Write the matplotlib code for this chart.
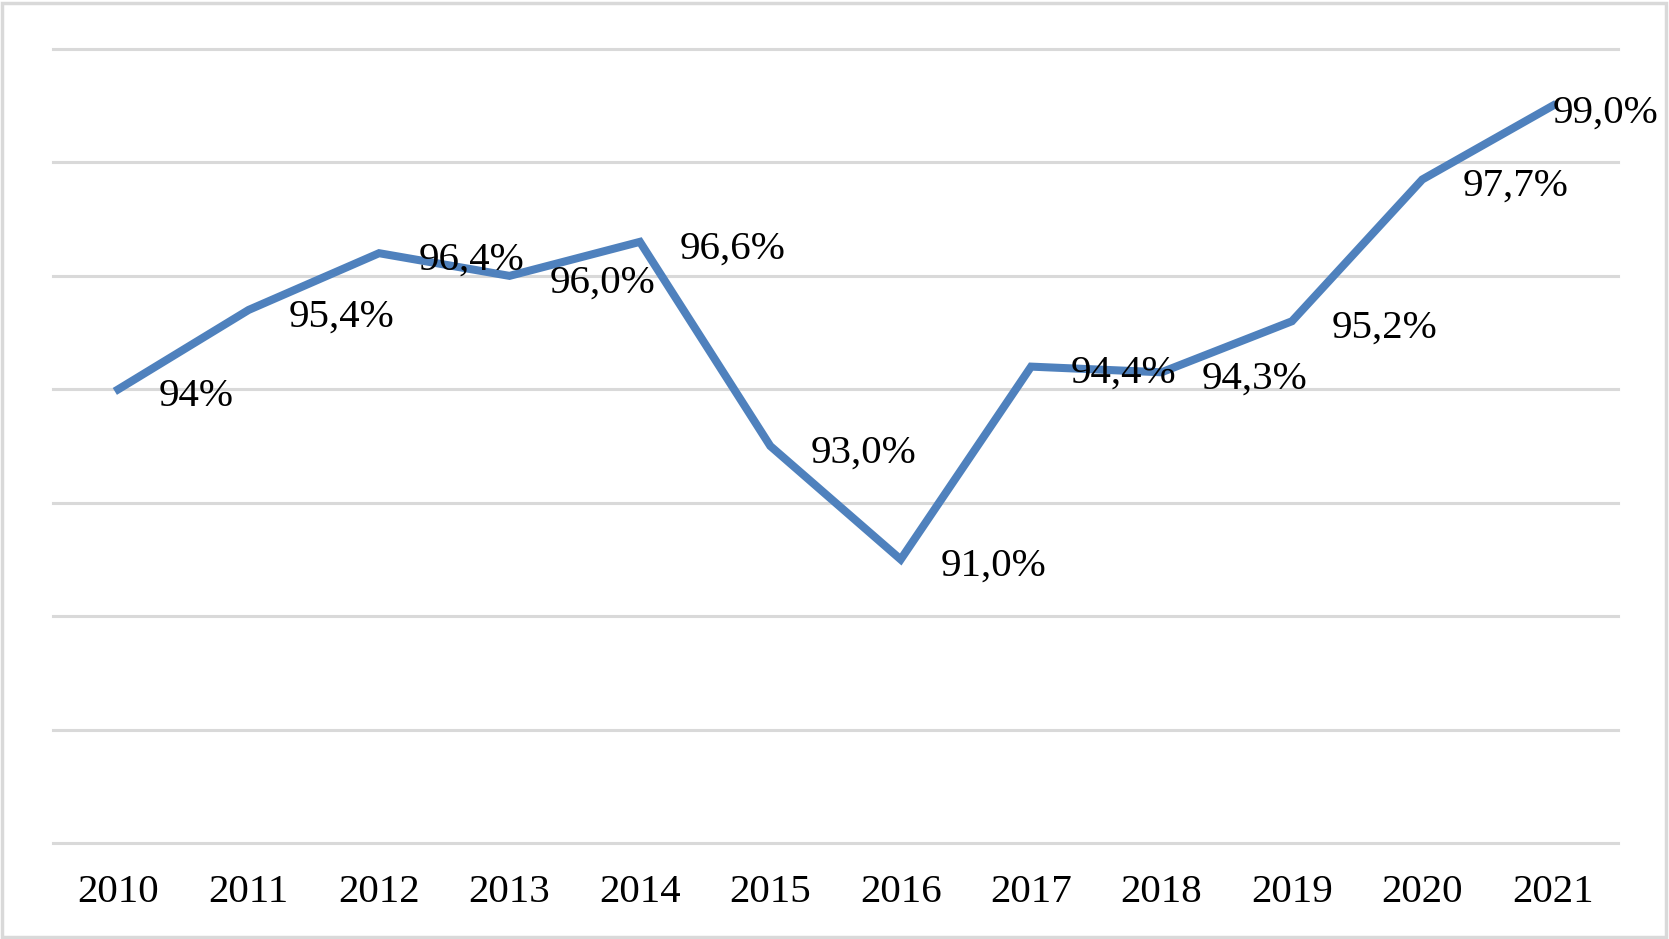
import matplotlib.pyplot as plt
from matplotlib.patches import Rectangle

years = ["2010", "2011", "2012", "2013", "2014", "2015", "2016", "2017", "2018", "2019", "2020", "2021"]
share = [94.0, 95.4, 96.4, 96.0, 96.6, 93.0, 91.0, 94.4, 94.3, 95.2, 97.7, 99.0]
labels = ["94%", "95,4%", "96,4%", "96,0%", "96,6%", "93,0%", "91,0%",
          "94,4%", "94,3%", "95,2%", "97,7%", "99,0%"]
y_ticks = [86, 88, 90, 92, 94, 96, 98, 100]

plt.rcParams["font.family"] = ["Liberation Serif", "DejaVu Serif"]

fig = plt.figure(figsize=(16.69, 9.39), dpi=100)
ax = fig.add_axes([0.0318, 0.1022, 0.9376, 0.8456])

x = list(range(len(years)))
ax.plot(x, share, color="#4f81bd", linewidth=5.8, solid_joinstyle="miter", zorder=3)

for i, (xi, yi, lab) in enumerate(zip(x, share, labels)):
    dx = 0 if i == len(x) - 1 else 40
    ax.annotate(lab, (xi, yi), xytext=(dx, -7), textcoords="offset pixels",
                ha="left", va="center", fontsize=29.5, color="black", zorder=4)

ax.set_xlim(-0.5, len(years) - 0.5)
ax.set_ylim(86, 100)
ax.set_yticks(y_ticks)
ax.set_yticklabels([])
ax.set_xticks(x)
ax.set_xticklabels(years, fontsize=29.5)
ax.tick_params(axis="both", length=0)
ax.tick_params(axis="x", pad=22)
ax.yaxis.grid(True, color="#d9d9d9", linewidth=2.2, clip_on=False)
ax.set_axisbelow(True)
for s in ax.spines.values():
    s.set_visible(False)

fig.patches.append(Rectangle((0.001, 0.002), 0.997, 0.995, transform=fig.transFigure,
                             fill=False, edgecolor="#d9d9d9", linewidth=2.5))

fig.savefig("out.png", dpi=100)
